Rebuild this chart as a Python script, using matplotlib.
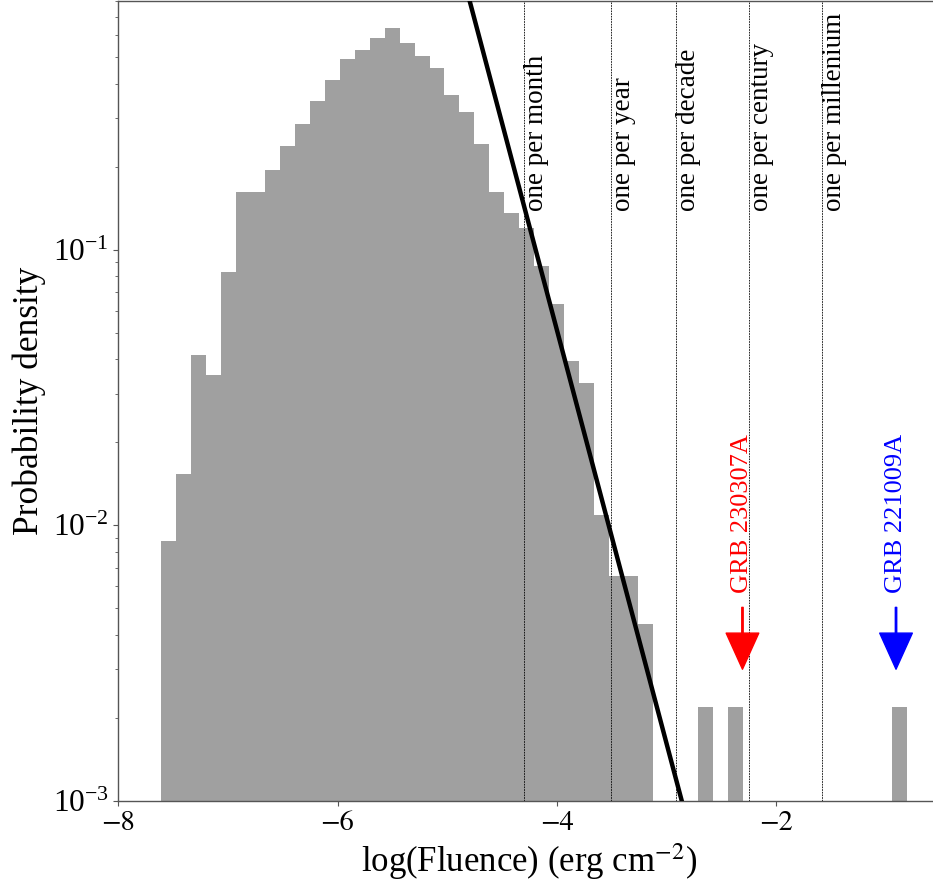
import numpy as np
import matplotlib
matplotlib.use("Agg")
import matplotlib.pyplot as plt

plt.rcParams['font.family'] = ['Liberation Serif', 'DejaVu Serif']
plt.rcParams['mathtext.fontset'] = 'stix'

# ---- data ----
bin_lo, bin_hi, n_bins = -7.61, -0.805, 50
counts = [4, 7, 19, 16, 38, 74, 74, 89, 109, 131,
          158, 189, 225, 243, 269, 292, 257, 230, 208, 167,
          144, 111, 74, 62, 55, 40, 29, 18, 15, 5,
          3, 3, 2, 0, 0, 0, 1, 0, 1, 0,
          0, 0, 0, 0, 0, 0, 0, 0, 0, 1]

# power-law line: log10(p) = line_icpt + line_slope * x
line_slope = -1.5
line_icpt = -7.289
line_x = [-5.0, -2.5]

rate_x = [-4.296, -3.507, -2.909, -2.243, -1.577]
rate_labels = ["one per month", "one per year", "one per decade",
               "one per century", "one per millenium"]
rate_label_y = 0.138

grb_names = ["GRB 230307A", "GRB 221009A"]
grb_x = [-2.305, -0.904]
grb_colors = ["#ff0000", "#0000ff"]
grb_arrow_top = 0.00503
grb_arrow_tip = 0.00300
grb_text_y = 0.00568

x_ticks = [-8, -6, -4, -2]

# ---- figure ----
fig = plt.figure(figsize=(9.33, 8.92), dpi=100)
ax = fig.add_axes([118.3 / 933, (892 - 800.7) / 892, (940.3 - 118.3) / 933, 800.0 / 892])

edges = np.linspace(bin_lo, bin_hi, n_bins + 1)
widths = np.diff(edges)
counts = np.array(counts, dtype=float)
density = counts / (counts.sum() * widths)
mask = counts > 0
ax.bar(edges[:-1][mask], density[mask], width=widths[mask], align='edge',
       color='#a0a0a0', linewidth=0, zorder=1)

for xv, lab in zip(rate_x, rate_labels):
    ax.axvline(xv, color='k', lw=0.6, ls=(0, (2.0, 1.2)), zorder=2)
    ax.text(xv, rate_label_y, lab, rotation=90, ha='left', va='bottom',
            fontsize=19.5, zorder=4)

lx = np.array(line_x)
ax.plot(lx, 10 ** (line_icpt + line_slope * lx), color='k', lw=3.2, zorder=3)

for name, xv, c in zip(grb_names, grb_x, grb_colors):
    ax.annotate('', xy=(xv, grb_arrow_tip), xytext=(xv, grb_arrow_top),
                arrowprops=dict(facecolor=c, edgecolor=c, width=1.0,
                                headwidth=23.5, headlength=26, shrink=0),
                zorder=5)
    ax.text(xv, grb_text_y, name, rotation=90, ha='center', va='bottom',
            color=c, fontsize=19, zorder=5)

ax.set_yscale('log')
ax.set_xlim(-8, -0.5)
ax.set_ylim(1e-3, 0.8)
ax.set_xticks(x_ticks)
ax.set_xticklabels(['\u2212%d' % abs(v) for v in x_ticks],
                   family='STIXGeneral', fontsize=20.5)
ax.tick_params(axis='y', which='major', labelsize=22.5)
ax.tick_params(axis='x', which='minor', bottom=False)
for sp in ax.spines.values():
    sp.set_color('#555555')
    sp.set_linewidth(1.0)
ax.tick_params(which='both', color='#555555')

ax.set_xlabel(r'log(Fluence) (erg cm$^{-2}$)', fontsize=25)
ax.set_ylabel('Probability density', fontsize=25.5, labelpad=5)

fig.savefig('out.png', dpi=100)
